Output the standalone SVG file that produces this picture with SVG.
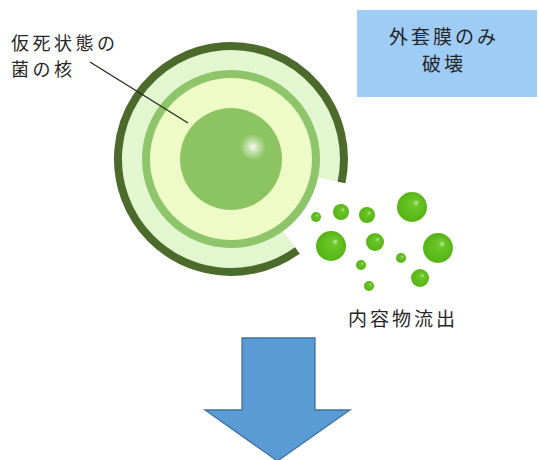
<svg xmlns="http://www.w3.org/2000/svg" width="539" height="460" viewBox="0 0 539 460">
  <style>
    .lbl { font-family: "Noto Sans CJK JP", "Noto Sans", sans-serif; fill: #262626; }
    .drop { fill: url(#dropGrad); }
  </style>
  <defs>
    <radialGradient id="dropGrad" cx="0.5" cy="0.5" r="0.5" fx="0.66" fy="0.34">
      <stop offset="0" stop-color="#c4ec9c"/>
      <stop offset="0.22" stop-color="#6cc62a"/>
      <stop offset="1" stop-color="#55b414"/>
    </radialGradient>
    <radialGradient id="shine" cx="0.5" cy="0.5" r="0.5">
      <stop offset="0" stop-color="#ffffff" stop-opacity="0.95"/>
      <stop offset="0.4" stop-color="#ffffff" stop-opacity="0.5"/>
      <stop offset="1" stop-color="#ffffff" stop-opacity="0"/>
    </radialGradient>
  </defs>

  <rect width="539" height="460" fill="#ffffff"/>

  <!-- cell: broken outer membrane, inner membrane, nucleus -->
  <g id="cell">
    <path d="M289.2,239.1 A99,99 0 1 1 327.8,179.6" fill="none" stroke="#e2f6d0" stroke-width="22"/>
    <path d="M297.4,250.4 A113,113 0 1 1 341.5,182.5" fill="none" stroke="#4c6a2c" stroke-width="8"/>
    <circle cx="231" cy="159" r="84" fill="#effbc6"/>
    <circle cx="231" cy="159" r="85" fill="none" stroke="#8fc56a" stroke-width="8"/>
    <circle cx="231" cy="159" r="51" fill="#8cc462"/>
    <circle cx="253" cy="147" r="13" fill="url(#shine)"/>
  </g>

  <!-- leaked contents -->
  <g id="contents">
    <circle class="drop" cx="316" cy="217" r="5"/>
    <circle class="drop" cx="341" cy="212" r="8"/>
    <circle class="drop" cx="367" cy="215" r="8"/>
    <circle class="drop" cx="412" cy="207" r="15"/>
    <circle class="drop" cx="331" cy="246" r="15"/>
    <circle class="drop" cx="375" cy="242" r="9"/>
    <circle class="drop" cx="438" cy="248" r="15"/>
    <circle class="drop" cx="361" cy="265" r="5"/>
    <circle class="drop" cx="401" cy="258" r="5"/>
    <circle class="drop" cx="420" cy="278" r="9"/>
    <circle class="drop" cx="369" cy="286" r="5"/>
  </g>

  <g id="connectors">
    <line x1="90" y1="62" x2="188" y2="123" stroke="#1f2d1a" stroke-width="1.3"/>
  </g>

  <g id="label-nucleus">
    <text class="lbl" x="11" y="50" font-size="18" letter-spacing="3.5">仮死状態の</text>
    <text class="lbl" x="11" y="76" font-size="18" letter-spacing="3.5">菌の核</text>
  </g>

  <g id="note-box">
    <rect x="357" y="10" width="180" height="87" fill="#9fcbf7"/>
    <text class="lbl" x="444" y="44" font-size="19" letter-spacing="3" text-anchor="middle">外套膜のみ</text>
    <text class="lbl" x="444" y="71" font-size="19" letter-spacing="3" text-anchor="middle">破壊</text>
  </g>

  <g id="label-contents">
    <text class="lbl" x="348" y="326" font-size="19" letter-spacing="3">内容物流出</text>
  </g>

  <g id="arrow">
    <path d="M242,338 H315 V410 H350 L277.5,461 L205,410 H242 Z" fill="#5b9bd5" stroke="#41719c" stroke-width="1.3"/>
  </g>
</svg>
